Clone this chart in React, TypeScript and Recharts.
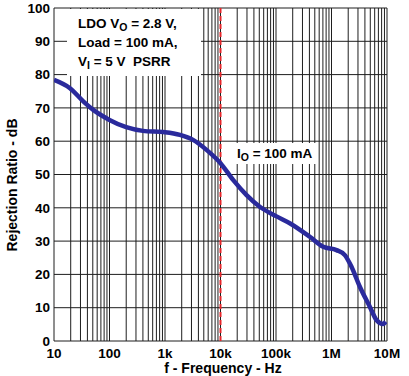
import { LineChart, Line, XAxis, YAxis, CartesianGrid, ReferenceLine, Customized } from 'recharts';

// PSRR curve (Hz, dB)
const freqHz = [10, 19.4, 34, 51, 100, 200, 400, 1000, 1860, 3200, 5600, 10000, 17000, 29500, 51000, 100000, 180000, 407000, 710000, 1230000, 1740000, 2290000, 3240000, 4900000, 6460000, 8500000, 9500000];
const psrrDb = [78.4, 75.9, 71.9, 69.4, 66.4, 64.2, 63.1, 62.7, 61.9, 60.4, 57.4, 53.4, 48.3, 43.8, 40.3, 37.5, 35.3, 31.3, 28.3, 27.3, 25.8, 22.3, 16.3, 10.3, 6.3, 5.1, 5.8];

const xTicks = [10, 100, 1e3, 1e4, 1e5, 1e6, 1e7];
const xTickLabels = ['10', '100', '1k', '10k', '100k', '1M', '10M'];
const yTicks = [0, 10, 20, 30, 40, 50, 60, 70, 80, 90, 100];
const decades = [10, 100, 1e3, 1e4, 1e5, 1e6];
const minorSteps = [1, 2, 3, 4, 5, 6, 7, 8, 9];
const markerHz = 10000;

const rows = freqHz.map((f, i) => ({ f, db: psrrDb[i] }));
const gridX = decades.flatMap(d => minorSteps.map(k => d * k)).concat([1e7]);

const FONT = '"Liberation Sans", Arial, Helvetica, sans-serif';
const tickStyle = { fill: '#000', fontSize: 13.5, fontWeight: 700, fontFamily: FONT };

function Notes() {
  const t = { fontFamily: FONT, fontWeight: 700, fontSize: 13.5, fill: '#000' } as const;
  return (
    <g>
      <rect x={67} y={9} width={134} height={67} fill="#fff" />
      <text x={78} y={28} {...t}>LDO V<tspan dy={3} fontSize={10.5}>O</tspan><tspan dy={-3}> = 2.8 V,</tspan></text>
      <text x={78} y={47} {...t}>Load = 100 mA,</text>
      <text x={78} y={66} {...t} xmlSpace="preserve">V<tspan dy={3} fontSize={10.5}>I</tspan><tspan dy={-3}> = 5 V  PSRR</tspan></text>

      <rect x={233} y={143} width={85} height={21} fill="#fff" />
      <text x={237} y={158} {...t}>I<tspan dy={3} fontSize={10.5}>O</tspan><tspan dy={-3}> = 100 mA</tspan></text>

      <text x={223} y={373} textAnchor="middle" {...t} fontSize={14}>f - Frequency - Hz</text>
      <text x={17} y={185} textAnchor="middle" transform="rotate(-90 17 185)" {...t} fontSize={14}>Rejection Ratio - dB</text>
    </g>
  );
}

export default function App() {
  return (
    <div style={{ position: 'absolute', left: 0, top: 0, width: 409, height: 376, background: '#fff' }}>
      <LineChart width={409} height={376} data={rows} margin={{ top: 8, right: 22, bottom: 5, left: 10 }}>
        <CartesianGrid stroke="#1e1e1e" strokeWidth={1} verticalValues={gridX} horizontalValues={yTicks} />
        <XAxis
          dataKey="f"
          type="number"
          scale="log"
          domain={[10, 1e7]}
          ticks={xTicks}
          tickFormatter={v => xTickLabels[xTicks.indexOf(v)] ?? ''}
          tick={tickStyle}
          axisLine={false}
          tickLine={false}
          tickSize={6}
          tickMargin={1}
          height={30}
          interval={0}
          allowDataOverflow
        />
        <YAxis
          type="number"
          domain={[0, 100]}
          ticks={yTicks}
          tick={tickStyle}
          axisLine={false}
          tickLine={false}
          tickSize={4}
          tickMargin={0}
          width={44}
          interval={0}
        />
        <Customized component={<Notes />} />
        <ReferenceLine x={markerHz} stroke="#E8262B" strokeWidth={2} strokeDasharray="5 3" />
        <Line
          dataKey="db"
          type="monotone"
          stroke="#2a2a9c"
          strokeWidth={4.5}
          dot={false}
          isAnimationActive={false}
        />
      </LineChart>
    </div>
  );
}
